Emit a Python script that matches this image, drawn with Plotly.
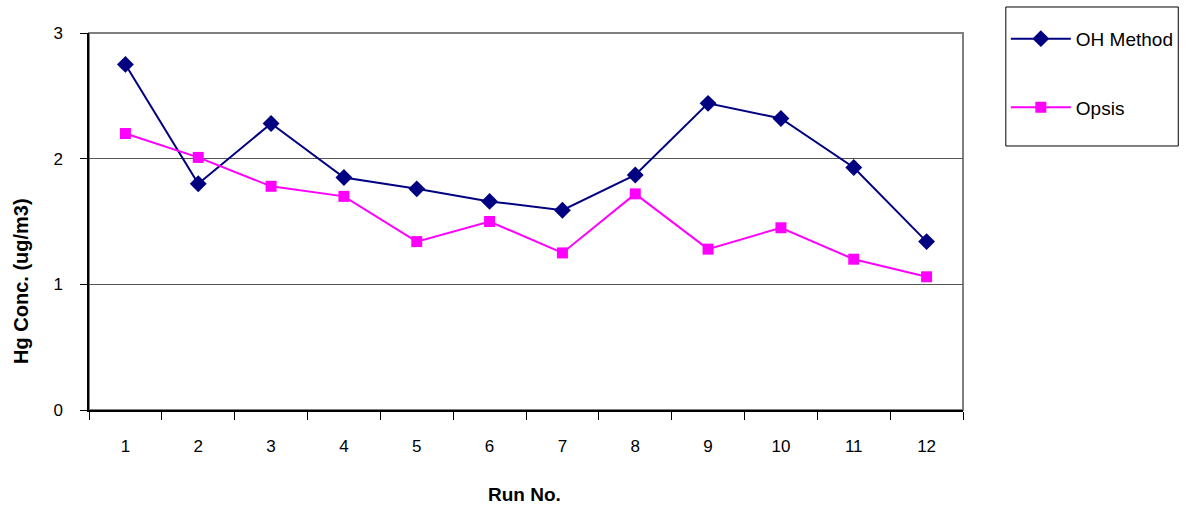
import plotly.graph_objects as go

runs = ["1", "2", "3", "4", "5", "6", "7", "8", "9", "10", "11", "12"]
oh_method = [2.75, 1.80, 2.28, 1.85, 1.76, 1.66, 1.59, 1.87, 2.44, 2.32, 1.93, 1.34]
opsis = [2.20, 2.01, 1.78, 1.70, 1.34, 1.50, 1.25, 1.72, 1.28, 1.45, 1.20, 1.06]
y_ticks = [0, 1, 2, 3]

FONT = "Liberation Sans, Arial, sans-serif"

fig = go.Figure()
fig.add_trace(go.Scatter(
    x=runs, y=oh_method, name="OH Method", mode="lines+markers",
    line=dict(color="#000080", width=2),
    marker=dict(symbol="diamond", size=13, color="#000080"),
    legendgroup="a",
))
fig.add_trace(go.Scatter(
    x=runs, y=opsis, name="Opsis", mode="lines+markers",
    line=dict(color="#FF00FF", width=2),
    marker=dict(symbol="square", size=11, color="#FF00FF"),
    legendgroup="b",
))

# plot area border (gray)
fig.add_shape(type="rect", xref="x domain", yref="y domain", x0=0, x1=1, y0=0, y1=1,
              line=dict(color="#808080", width=2), layer="below")
# legend box
fig.add_shape(type="rect", xref="paper", yref="paper", x0=1.049, x1=1.2463, y0=0.7003, y1=1.069,
              line=dict(color="black", width=1), fillcolor="white", layer="below")

fig.update_layout(
    width=1191, height=512,
    margin=dict(l=89, r=225, t=33, b=102),
    paper_bgcolor="white", plot_bgcolor="white",
    font=dict(family=FONT, size=17, color="black"),
    showlegend=True,
    legend=dict(
        x=1.049, y=1.035, xanchor="left", yanchor="top",
        bgcolor="rgba(0,0,0,0)", borderwidth=0,
        font=dict(family=FONT, size=19, color="black"),
        traceorder="grouped", tracegroupgap=41, itemwidth=60,
    ),
    xaxis=dict(
        type="category", range=[-0.5, len(runs) - 0.5],
        tickson="boundaries", ticks="outside", ticklen=8,
        tickcolor="black", tickwidth=1,
        showline=True, linecolor="black", linewidth=1.5,
        showgrid=False, zeroline=False,
        tickfont=dict(family=FONT, size=17), ticklabelstandoff=20,
    ),
    yaxis=dict(
        range=[0, 3], tickvals=y_ticks, ticks="outside", ticklen=7,
        tickcolor="black", tickwidth=1,
        showline=True, linecolor="black", linewidth=1.5,
        showgrid=True, gridcolor="#555555", gridwidth=1, zeroline=False,
        tickfont=dict(family=FONT, size=17), ticklabelstandoff=14,
    ),
    annotations=[
        dict(text="<b>Hg Conc. (ug/m3)</b>", xref="paper", yref="paper",
             x=-0.078, y=0.342, xanchor="center", yanchor="middle", textangle=-90,
             showarrow=False, font=dict(family=FONT, size=20)),
        dict(text="<b>Run No.</b>", xref="paper", yref="paper",
             x=0.498, y=-0.225, xanchor="center", yanchor="middle",
             showarrow=False, font=dict(family=FONT, size=19)),
    ],
)

fig.write_html("out.html", config={"displayModeBar": False},
               post_script="document.body.style.margin='0';")
